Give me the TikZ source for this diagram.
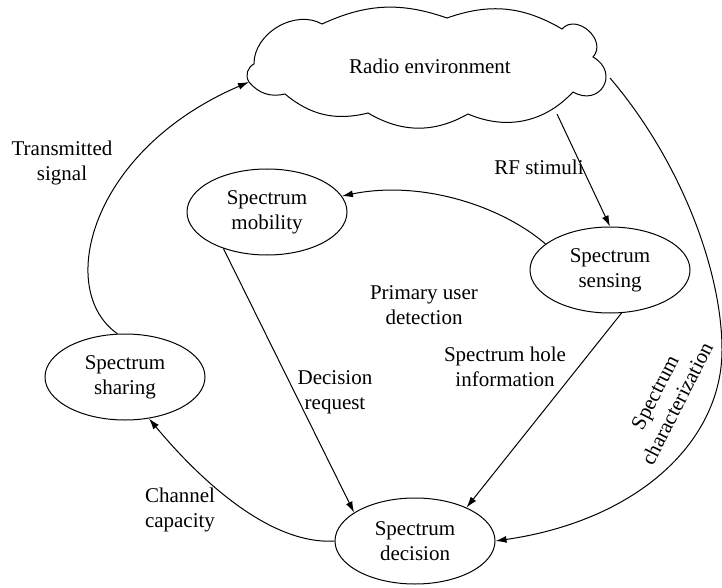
\documentclass[tikz,border=0pt]{standalone}
\usepackage{fontspec}
\setmainfont{Liberation Serif}
\usetikzlibrary{shapes.geometric,arrows.meta}
\begin{document}
\begin{tikzpicture}[x=1pt,y=-1pt,
  every node/.style={font=\fontsize{21}{25}\selectfont},
  stage/.style={draw,ellipse,minimum width=160pt,minimum height=86pt,inner sep=0pt,align=center,line width=1pt},
  lbl/.style={align=center,inner sep=0pt},
  conn/.style={-{Latex[length=11pt,width=7pt]},line width=1pt}]
\useasboundingbox (0,0) rectangle (722,588);
% cloud
\coordinate (c1) at (249,82);
\coordinate (c2) at (254,64);
\coordinate (c3) at (322,24);
\coordinate (c4) at (447,18);
\coordinate (c5) at (562,29);
\coordinate (c6) at (593,57);
\coordinate (c7) at (573,92);
\coordinate (c8) at (468,114);
\coordinate (c9) at (368,113);
\coordinate (c10) at (285,94);
\draw[line width=1pt] (c1) to[bend left=50] (c2) to[bend left=60] (c3) to[bend left=22] (c4)
  to[bend left=25] (c5) to[bend left=90,looseness=1.35] (c6) to[bend left=90,looseness=2] (c7)
  to[bend left=35] (c8) to[bend left=30] (c9) to[bend left=27] (c10) to[bend left=32] (c1);
\node[lbl] (radio) at (430,66) {Radio environment};
\coordinate (rfout) at (557,114);
\coordinate (chout) at (610,78);
% stages
\node[stage] (mob) at (267,212) {Spectrum\\mobility};
\node[stage] (sens) at (610,270) {Spectrum\\sensing};
\node[stage] (shar) at (125,377) {Spectrum\\sharing};
\node[stage] (dec) at (415,541) {Spectrum\\decision};
% connectors
\draw[conn] (shar.100) .. controls (55,290) and (90,150) .. (c1);
\draw[conn] (rfout) -- (sens.north);
\draw[conn] (chout) .. controls (680,160) and (722,270) .. (722,350) .. controls (722,440) and (640,520) .. (dec.east);
\draw[conn] (sens.158) .. controls (500,205) and (420,180) .. (mob.12);
\draw[conn] (mob.220) -- (dec.155);
\draw[conn] (sens.285) -- (dec.33);
\draw[conn] (dec.west) .. controls (270,545) and (200,480) .. (shar.-60);
% labels
\node[lbl] (ltx) at (62,163) {Transmitted\\signal};
\node[lbl] (lrf) at (539,167) {RF stimuli};
\node[lbl] (lpu) at (424,305) {Primary user\\detection};
\node[lbl] (ldr) at (335,392) {Decision\\request};
\node[lbl] (lsh) at (505,367) {Spectrum hole\\information};
\node[lbl] (lcc) at (180,510) {Channel\\capacity};
\node[lbl,rotate=63] (lch) at (666,398) {Spectrum\\characterization};
\end{tikzpicture}
\end{document}
